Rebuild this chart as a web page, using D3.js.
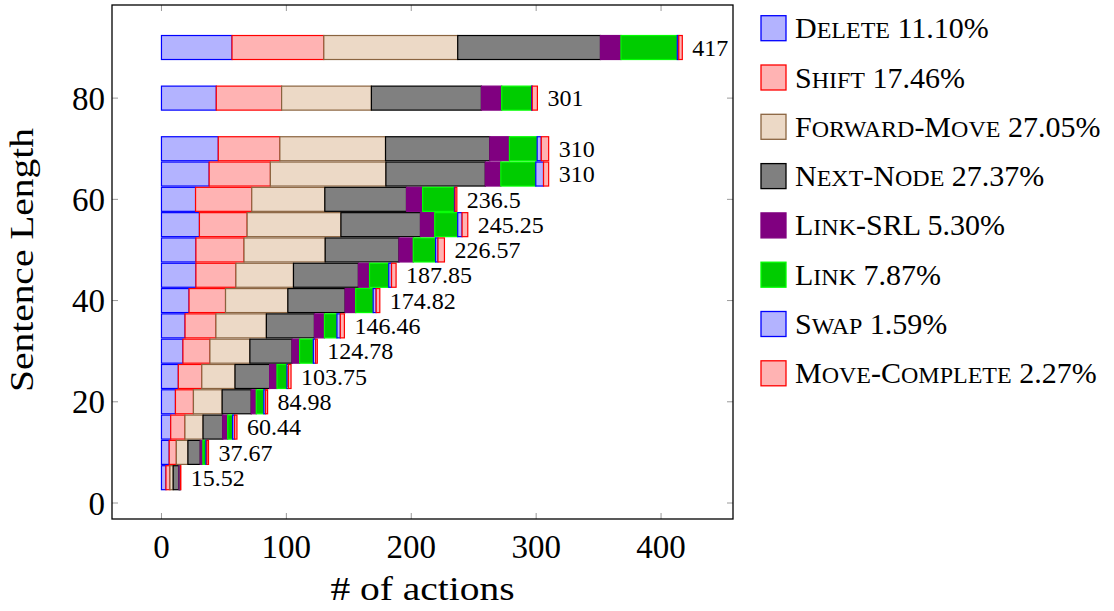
<!DOCTYPE html>
<html>
<head>
<meta charset="utf-8">
<script src="https://cdn.jsdelivr.net/npm/d3@7"></script>
<style>
  html, body { margin: 0; padding: 0; background: #fff; }
  svg text { font-family: "Liberation Serif", "DejaVu Serif", serif; fill: #000; }
</style>
</head>
<body>
<svg id="chart" width="1114" height="611"></svg>
<script>
// Sentence length buckets (y positions of the bars)
const sentenceLengths = [5, 10, 15, 20, 25, 30, 35, 40, 45, 50, 55, 60, 65, 70, 80, 90];

// Average number of actions of each type per sentence, one entry per bucket
const deleteCounts       = [3.6, 6.2, 7.4, 11.2, 13.5, 17.2, 18.9, 22.1, 27.6, 27.6, 30.4, 27.3, 38.2, 45.5, 43.9, 56.5];
const shiftCounts        = [3.2, 5.7, 11.4, 14.4, 18.8, 21.6, 24.7, 29.2, 32.0, 38.5, 38.2, 45.0, 49.0, 49.3, 52.3, 73.5];
const forwardMoveCounts  = [2.6, 9.3, 14.5, 23.0, 26.6, 32.0, 40.4, 49.9, 46.1, 65.0, 75.1, 58.5, 92.5, 84.6, 71.9, 107.2];
const nextNodeCounts     = [4.6, 9.9, 15.8, 23.3, 27.7, 33.8, 38.5, 45.9, 52.0, 59.1, 63.7, 65.4, 79.6, 83.5, 88.1, 114.3];
const linkSrlCounts      = [0.5, 2.1, 3.95, 4.0, 5.9, 6.0, 8.0, 8.4, 8.9, 11.4, 11.4, 12.9, 12.4, 15.7, 16.2, 16.4];
const linkCounts         = [0.3, 2.4, 3.95, 6.1, 8.0, 11.0, 10.0, 14.0, 15.4, 17.9, 18.4, 25.5, 28.0, 22.2, 24.0, 45.1];
const swapCounts         = [0.2, 0.8, 1.58, 1.4, 1.1, 1.9, 2.7, 2.4, 2.2, 1.9, 3.5, 0.5, 6.2, 3.3, 0.5, 1.2];
const moveCompleteCounts = [0.52, 1.27, 1.86, 1.58, 2.15, 1.28, 3.26, 2.92, 3.65, 5.17, 4.55, 1.4, 4.1, 5.9, 4.1, 2.8];

// Legend entries
const actionNames  = ["Delete", "Shift", "Forward-Move", "Next-Node", "Link-SRL", "Link", "Swap", "Move-Complete"];
const actionShares = ["11.10%", "17.46%", "27.05%", "27.37%", "5.30%", "7.87%", "1.59%", "2.27%"];

// Axis ticks
const xTicks = [0, 100, 200, 300, 400];
const yTicks = [0, 20, 40, 60, 80];

const seriesValues = [deleteCounts, shiftCounts, forwardMoveCounts, nextNodeCounts,
                      linkSrlCounts, linkCounts, swapCounts, moveCompleteCounts];
const fills   = ["#b3b3ff", "#ffb3b3", "#ecd9c6", "#808080", "#800080", "#00cc00", "#b3b3ff", "#ffb3b3"];
const strokes = ["#0000ff", "#ff0000", "#8a6440", "#000000", "#800080", "#00ff00", "#0000ff", "#ff0000"];

// Rows for d3.stack
const keys = actionNames;
const rows = sentenceLengths.map((len, i) => {
  const r = { len };
  keys.forEach((k, j) => { r[k] = seriesValues[j][i]; });
  return r;
});
const stacked = d3.stack().keys(keys)(rows);

const svg = d3.select("#chart");
const plot = { left: 112, right: 733, top: 5, bottom: 519 };

const x = d3.scaleLinear().domain([-39.6, 457.6]).range([plot.left, plot.right]);
const y = d3.scaleLinear().domain([-3.16, 98.4]).range([plot.bottom, plot.top]);
const barH = 24;

// Tick marks on all four sides, drawn inside the frame
const tickLen = 6;
const ticks = svg.append("g").attr("stroke", "#9a9a9a").attr("stroke-width", 1);
xTicks.forEach(t => {
  ticks.append("line").attr("x1", x(t)).attr("x2", x(t)).attr("y1", plot.bottom).attr("y2", plot.bottom - tickLen);
  ticks.append("line").attr("x1", x(t)).attr("x2", x(t)).attr("y1", plot.top).attr("y2", plot.top + tickLen);
});
yTicks.forEach(t => {
  ticks.append("line").attr("x1", plot.left).attr("x2", plot.left + tickLen).attr("y1", y(t)).attr("y2", y(t));
  ticks.append("line").attr("x1", plot.right).attr("x2", plot.right - tickLen).attr("y1", y(t)).attr("y2", y(t));
});

// Stacked bars
const layers = svg.append("g")
  .selectAll("g")
  .data(stacked)
  .join("g")
  .attr("fill", (d, i) => fills[i])
  .attr("stroke", (d, i) => strokes[i])
  .attr("stroke-width", 1.2);

layers.selectAll("rect")
  .data(d => d)
  .join("rect")
  .attr("x", d => x(d[0]))
  .attr("width", d => Math.max(0, x(d[1]) - x(d[0])))
  .attr("y", d => y(d.data.len) - barH / 2)
  .attr("height", barH);

// Totals at the end of each bar
const totals = rows.map((r, i) => seriesValues.reduce((s, arr) => s + arr[i], 0));
svg.append("g")
  .selectAll("text")
  .data(rows)
  .join("text")
  .attr("x", (d, i) => x(totals[i]) + 10)
  .attr("y", d => y(d.len))
  .attr("dy", "0.34em")
  .attr("font-size", 24)
  .text((d, i) => String(+totals[i].toFixed(2)));

// Frame
svg.append("rect")
  .attr("x", plot.left).attr("y", plot.top)
  .attr("width", plot.right - plot.left).attr("height", plot.bottom - plot.top)
  .attr("fill", "none").attr("stroke", "#000").attr("stroke-width", 1.3);

// Tick labels
svg.append("g").selectAll("text").data(xTicks).join("text")
  .attr("x", d => x(d)).attr("y", 558)
  .attr("text-anchor", "middle").attr("font-size", 33)
  .text(d => d);
svg.append("g").selectAll("text").data(yTicks).join("text")
  .attr("x", 105).attr("y", d => y(d)).attr("dy", "0.35em")
  .attr("text-anchor", "end").attr("font-size", 33)
  .text(d => d);

// Axis titles
svg.append("text")
  .attr("x", (plot.left + plot.right) / 2).attr("y", 600)
  .attr("text-anchor", "middle").attr("font-size", 33)
  .attr("textLength", 184).attr("lengthAdjust", "spacingAndGlyphs")
  .text("# of actions");
svg.append("text")
  .attr("transform", `translate(33, ${(plot.top + plot.bottom) / 2 - 2}) rotate(-90)`)
  .attr("text-anchor", "middle").attr("font-size", 33)
  .attr("textLength", 264).attr("lengthAdjust", "spacingAndGlyphs")
  .text("Sentence Length");

// Small caps: capitals at full size, lower-case letters as smaller capitals
function appendSmallCaps(textSel, str, big, small) {
  const runs = str.match(/[a-z]+|[^a-z]+/g) || [];
  runs.forEach(run => {
    const lower = /^[a-z]+$/.test(run);
    textSel.append("tspan")
      .attr("font-size", lower ? small : big)
      .text(lower ? run.toUpperCase() : run);
  });
}

// Legend
const legend = svg.append("g");
actionNames.forEach((name, i) => {
  const cy = 28.2 + i * 49.3;
  legend.append("rect")
    .attr("x", 761).attr("y", cy - 12.5).attr("width", 25).attr("height", 25)
    .attr("fill", fills[i]).attr("stroke", strokes[i]).attr("stroke-width", 1.3);
  const t = legend.append("text")
    .attr("x", 795).attr("y", cy + 10).attr("font-size", 30);
  appendSmallCaps(t, name, 30, 24);
  t.append("tspan").attr("font-size", 30).text(" " + actionShares[i]);
});
</script>
</body>
</html>
